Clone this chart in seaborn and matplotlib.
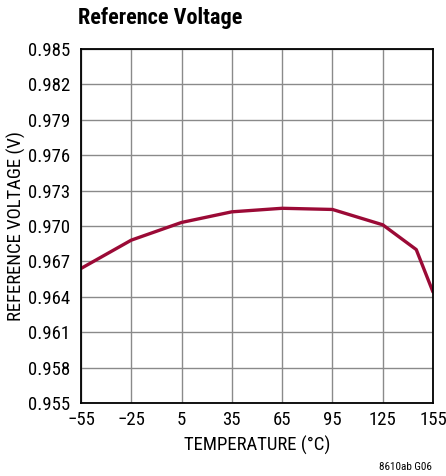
import numpy as np
import matplotlib.pyplot as plt
import pandas as pd
import seaborn as sns

# values
temperature = [-55, -25, 5, 35, 65, 95, 125, 145, 155]
ref_voltage = [0.9664, 0.9688, 0.9703, 0.9712, 0.9715, 0.9714, 0.9701, 0.9680, 0.9644]

x_ticks = [-55, -25, 5, 35, 65, 95, 125, 155]
y_ticks = [0.955, 0.958, 0.961, 0.964, 0.967, 0.970, 0.973, 0.976, 0.979, 0.982, 0.985]

df = pd.DataFrame({"temp": temperature, "vref": ref_voltage})

sns.set_style("white")
plt.rcParams['font.family'] = ['Roboto Condensed', 'DejaVu Sans']
plt.rcParams['text.color'] = 'black'
plt.rcParams['xtick.color'] = 'black'
plt.rcParams['ytick.color'] = 'black'
plt.rcParams['axes.labelcolor'] = 'black'

fig = plt.figure(figsize=(4.46, 4.76), dpi=100)
ax = fig.add_axes([0.1816, 0.1534, 0.7893, 0.7437])

sns.lineplot(data=df, x="temp", y="vref", ax=ax, color="#9b0a36", linewidth=2.4)

ax.set_xlim(-55, 155)
ax.set_ylim(0.955, 0.985)
ax.set_xticks(x_ticks)
ax.set_xticklabels([str(t).replace("-", "\u2212") for t in x_ticks])
ax.set_yticks(y_ticks)
ax.set_yticklabels([f"{v:.3f}" for v in y_ticks])
ax.tick_params(labelsize=13.5, length=0)
ax.tick_params(axis="x", pad=6)
ax.tick_params(axis="y", pad=8)
ax.grid(True, color="#8a8a8a", linewidth=1.0)
for s in ax.spines.values():
    s.set_color("black")
    s.set_linewidth(1.3)

ax.set_xlabel("TEMPERATURE (°C)", fontsize=13.5, labelpad=5)
ax.set_ylabel("REFERENCE VOLTAGE (V)", fontsize=13.5, labelpad=1)

fig.text(0.175, 0.962, "Reference Voltage", fontsize=16, fontweight="bold", va="center", ha="left")
fig.text(0.969, 0.019, "8610ab G06", fontsize=8, ha="right", va="center")

fig.savefig("out.png", dpi=100)
